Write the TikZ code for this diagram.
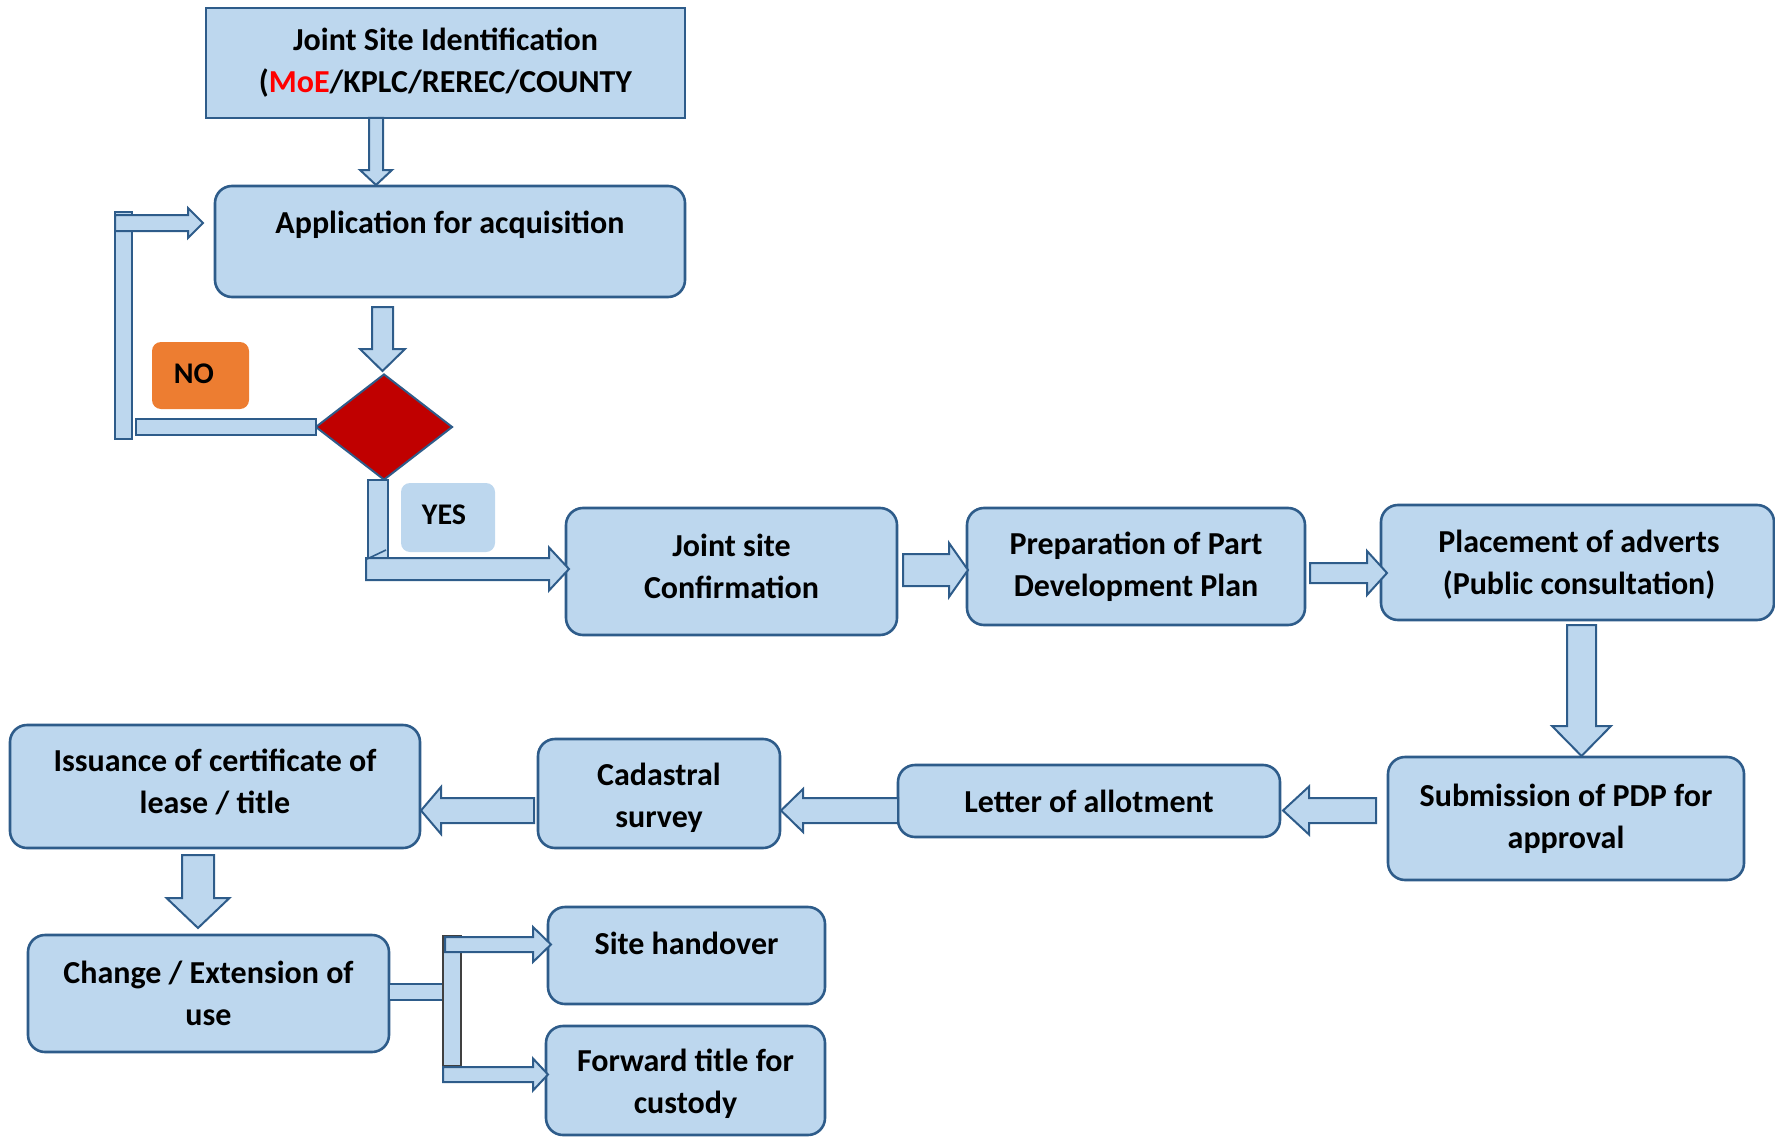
\documentclass[tikz,border=0pt]{standalone}
\usepackage{fontspec}
\setmainfont{Carlito}
\usetikzlibrary{shapes.geometric}
\definecolor{boxfill}{HTML}{BDD7EE}
\definecolor{boxline}{HTML}{2E5C8A}
\definecolor{decred}{HTML}{C00000}
\definecolor{noorange}{HTML}{ED7D31}
\definecolor{moered}{HTML}{FF0000}
% block arrows: tail, tip, centre, shaft half, head half, head length
\newcommand\blkR[6]{\draw[barrow] (#1,#3-#4) -- (#2-#6,#3-#4) -- (#2-#6,#3-#5) -- (#2,#3) -- (#2-#6,#3+#5) -- (#2-#6,#3+#4) -- (#1,#3+#4) -- cycle;}
\newcommand\blkL[6]{\draw[barrow] (#1,#3-#4) -- (#2+#6,#3-#4) -- (#2+#6,#3-#5) -- (#2,#3) -- (#2+#6,#3+#5) -- (#2+#6,#3+#4) -- (#1,#3+#4) -- cycle;}
\newcommand\blkD[6]{\draw[barrow] (#3-#4,#1) -- (#3-#4,#2-#6) -- (#3-#5,#2-#6) -- (#3,#2) -- (#3+#5,#2-#6) -- (#3+#4,#2-#6) -- (#3+#4,#1) -- cycle;}
\begin{document}
\begin{tikzpicture}[x=1pt,y=-1pt,
  box/.style={draw=boxline, fill=boxfill, line width=2.6pt, rounded corners=17pt, inner sep=0pt, align=center, font=\fontsize{32}{42}\selectfont\bfseries},
  txt/.style={inner sep=0pt, align=center, font=\fontsize{32}{42}\selectfont\bfseries},
  tag/.style={rounded corners=9pt, inner sep=0pt},
  tagtxt/.style={inner sep=0pt, font=\fontsize{30}{34}\selectfont\bfseries},
  barrow/.style={draw=boxline, fill=boxfill, line width=2pt, line join=miter}]
\useasboundingbox (0,0) rectangle (1775,1137);

% nodes
\node[box, rounded corners=0pt, minimum width=479pt, minimum height=110pt] (top) at (445.5,63)
  {Joint Site Identification\\(\textcolor{moered}{MoE}/KPLC/REREC/COUNTY};
\node[box, minimum width=470pt, minimum height=111pt] (app) at (450,241.5) {};
\node[txt] (apptext) at (450,225) {Application for acquisition};
\node[diamond, draw=boxline, fill=decred, line width=2pt, inner sep=0pt, minimum width=137pt, minimum height=106pt] (dec) at (384,427) {};
\node[tag, fill=noorange, minimum width=97pt, minimum height=67pt] (no) at (200.5,375.5) {};
\node[tagtxt] (notext) at (194,374) {NO};
\node[tag, fill=boxfill, minimum width=94pt, minimum height=69pt] (yes) at (448,517.5) {};
\node[tagtxt] (yestext) at (444,515) {YES};
\node[box, minimum width=331pt, minimum height=127pt] (jsc) at (731.5,571.5) {};
\node[txt] (jsctext) at (731.5,566) {Joint site\\Confirmation};
\node[box, minimum width=338pt, minimum height=117pt] (pdp) at (1136,566.5) {Preparation of Part\\Development Plan};
\node[box, minimum width=393pt, minimum height=115pt] (adv) at (1577.5,562.5) {};
\node[txt] (advtext) at (1579,565) {Placement of adverts\\(Public consultation)};
\node[box, minimum width=356pt, minimum height=123pt] (sub) at (1566,818.5) {Submission of PDP for\\approval};
\node[box, minimum width=382pt, minimum height=72pt] (loa) at (1089,801) {Letter of allotment};
\node[box, minimum width=242pt, minimum height=109pt] (cad) at (659,793.5) {};
\node[txt] (cadtext) at (659,798) {Cadastral\\survey};
\node[box, minimum width=410pt, minimum height=123pt] (iss) at (215,786.5) {};
\node[txt] (isstext) at (215,781.5) {Issuance of certificate of\\lease / title};
\node[box, minimum width=361pt, minimum height=117pt] (chg) at (208.5,993.5) {Change / Extension of\\use};
\node[box, minimum width=277pt, minimum height=97pt] (site) at (686.5,955.5) {};
\node[txt] (sitetext) at (686.5,943) {Site handover};
\node[box, minimum width=279pt, minimum height=109pt] (fwd) at (685.5,1080.5) {};
\node[txt] (fwdtext) at (685.5,1084) {Forward title for\\custody};

% connectors (block arrows)
\blkD{118}{185}{376}{7}{16}{15}
\blkD{307}{371}{382.5}{10.5}{22.5}{22}
% NO loop
\draw[barrow] (136,419) rectangle (316,435);
\draw[barrow] (115,212) rectangle (132,439);
\blkR{115}{203}{223}{8}{15}{15}
% YES branch
\draw[barrow] (368,480) rectangle (388,558);
\blkR{366}{569}{569}{11}{21.5}{20}
\draw[boxline, line width=1.6pt] (367,559) -- (386,550);
\blkR{903}{968}{570}{16}{27}{19}
\blkR{1310}{1387}{573}{10}{22}{20}
\blkD{625}{756}{1581.5}{14.5}{29.5}{30}
\blkL{1376}{1283}{810.5}{12.5}{24}{26}
\blkL{898}{781}{810.5}{12.5}{21.5}{22}
\blkL{534}{421}{810.5}{12.5}{23.5}{20}
\blkD{855}{928}{198}{16}{31.5}{30}
% split to site handover / forward title
\draw[barrow] (389,984) rectangle (443,1000);
\draw[barrow, draw=black!75] (443,936) rectangle (461,1066);
\blkR{445}{551}{944.5}{7.5}{17.5}{18}
\blkR{443}{548}{1074.5}{7.5}{16}{15}
\end{tikzpicture}
\end{document}
